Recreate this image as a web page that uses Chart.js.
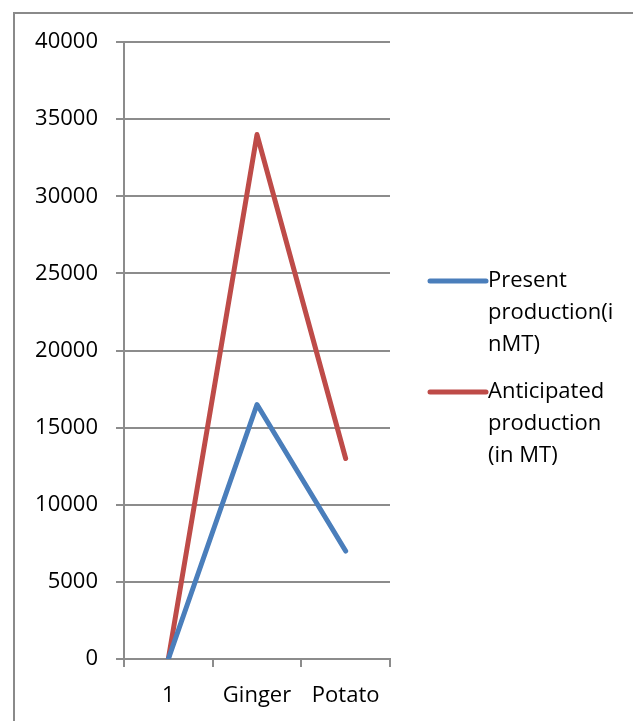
<!DOCTYPE html>
<html>
<head>
<meta charset="utf-8">
<script src="https://cdn.jsdelivr.net/npm/chart.js@4"></script>
<style>
  html, body { margin: 0; padding: 0; background: #fff; }
  #wrap { width: 633px; height: 721px; }
</style>
</head>
<body>
<div id="wrap"><canvas id="prodChart" width="633" height="721"></canvas></div>
<script>
// ======================== Data ========================
const categories = ["1", "Ginger", "Potato"];
const presentProduction = [0, 16500, 7000];
const anticipatedProduction = [0, 34000, 13000];
const presentLabel = ["Present", "production(i", "nMT)"];
const anticipatedLabel = ["Anticipated", "production", "(in MT)"];
const yTicks = [0, 5000, 10000, 15000, 20000, 25000, 30000, 35000, 40000];

const FONT = "'Open Sans', 'Noto Sans', sans-serif";
const GRID = "#8c8c8c";

// ======================== Outer frame + legend ========================
const framePlugin = {
    id: "frame",
    beforeDraw(chart) {
        let c = chart.ctx;
        c.save();
        c.fillStyle = "#fff";
        c.fillRect(0, 0, chart.width, chart.height);
        c.strokeStyle = "#8a8a8a";
        c.lineWidth = 2;
        c.strokeRect(14, 13, chart.width + 10, chart.height + 10);
        c.restore();
    }
};

const sideLegend = {
    id: "sideLegend",
    afterDraw(chart) {
        let c = chart.ctx;
        let area = chart.chartArea;
        let x0 = area.right + 40;
        let y = area.top + 239;
        c.save();
        c.font = "22px " + FONT;
        c.textBaseline = "middle";
        c.fillStyle = "#000";
        chart.data.datasets.forEach((ds) => {
            c.strokeStyle = ds.borderColor;
            c.lineWidth = 5;
            c.lineCap = "round";
            c.beginPath();
            c.moveTo(x0, y);
            c.lineTo(x0 + 56, y);
            c.stroke();
            ds.label.forEach((line, i) => {
                c.fillText(line, x0 + 58, y + i * 32);
            });
            y += ds.label.length * 32 + 15;
        });
        c.restore();
    }
};

// ======================== Chart ========================
let ctx = document.getElementById("prodChart").getContext("2d");

let prodChart = new Chart(ctx, {
    type: "line",
    data: {
        labels: categories,
        datasets: [{
            label: presentLabel,
            data: presentProduction,
            borderColor: "#4a7ebb",
            borderWidth: 5,
            pointRadius: 0,
            tension: 0,
            borderCapStyle: "round",
            borderJoinStyle: "round"
        }, {
            label: anticipatedLabel,
            data: anticipatedProduction,
            borderColor: "#be4b48",
            borderWidth: 5,
            pointRadius: 0,
            tension: 0,
            borderCapStyle: "round",
            borderJoinStyle: "round"
        }]
    },
    options: {
        responsive: false,
        animation: false,
        devicePixelRatio: 1,
        layout: { padding: { left: 0, top: 42, right: 243, bottom: 0 } },
        plugins: {
            legend: { display: false },
            tooltip: { enabled: false }
        },
        scales: {
            x: {
                offset: true,
                grid: {
                    offset: true,
                    drawOnChartArea: false,
                    color: GRID,
                    lineWidth: 2,
                    tickLength: 8
                },
                border: { color: GRID, width: 2 },
                ticks: {
                    color: "#000",
                    padding: 16,
                    font: { family: FONT, size: 22 }
                },
                afterFit(scale) { scale.height = 62; }
            },
            y: {
                min: 0,
                max: 40000,
                afterBuildTicks(scale) {
                    scale.ticks = yTicks.map(v => ({ value: v }));
                },
                grid: {
                    color: GRID,
                    lineWidth: 2,
                    tickLength: 8
                },
                border: { color: GRID, width: 2 },
                ticks: {
                    color: "#000",
                    padding: 18,
                    font: { family: FONT, size: 22 },
                    callback: (v) => String(v)
                },
                afterFit(scale) { scale.width = 124; }
            }
        }
    },
    plugins: [framePlugin, sideLegend]
});
</script>
</body>
</html>
